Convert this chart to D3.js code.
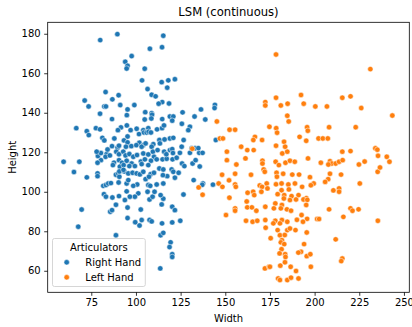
<!DOCTYPE html>
<html><head><meta charset="utf-8">
<script src="https://cdn.jsdelivr.net/npm/d3@7"></script>
<style>body{margin:0;background:#fff}svg{display:block}text{font-family:"DejaVu Sans",sans-serif;fill:#000}</style>
</head><body>
<svg id="c" width="412" height="327"></svg>
<script>
const title = "LSM (continuous)";
const seriesNames = ["Right Hand", "Left Hand"];
const seriesColors = ["#1f77b4", "#ff7f0e"];
const xTicks = [75, 100, 125, 150, 175, 200, 225, 250];
const yTicks = [60, 80, 100, 120, 140, 160, 180];
const rightHand = [[89.6,179.8],[80.0,176.8],[115.3,179],[114.6,173.2],[107.8,172.4],[97.6,168.7],[94,165.8],[95.3,163.8],[94.8,162.4],[104.9,162.3],[103.4,156.4],[114.4,155.5],[118.1,156.4],[121.8,157],[117.5,152.7],[106.5,152],[83,150.5],[108.8,149.1],[90.3,148.9],[111,148.3],[71.3,146.2],[86.8,146.8],[73.5,143.2],[82.3,143.2],[83.2,143.2],[91.2,143.9],[99.1,143.9],[114.7,145.4],[112.7,144.6],[118.5,144.7],[79.9,139.5],[95.3,141.7],[105.2,140.3],[108.8,139.8],[109,139],[94.9,138.8],[126.1,140.2],[136.4,141.7],[144.2,144],[144,142.4],[86.6,136.8],[104.9,136.6],[108.6,137.1],[114.7,136.8],[119,138.1],[120.9,138.1],[120.3,136],[132.8,138.1],[138.8,136.6],[125.7,134.4],[66.6,132.2],[77.6,132.2],[79.9,131.6],[91.6,132.6],[89.9,131.2],[94.9,133.6],[97,131.2],[100.4,131.9],[104.1,131.2],[106.9,132.2],[111.8,131.6],[114.6,132.2],[115.7,133.6],[130.2,132.9],[129.3,131.2],[72.5,130.7],[73.6,128.7],[81.2,127.3],[87.9,127],[95.3,128],[101.7,129.2],[104.5,130],[106,130],[107.1,130.4],[108.4,130],[119,127],[120.9,127.3],[126.7,126.2],[113.1,126.2],[116,126.5],[82.3,126],[93.3,126],[95.3,125],[101.9,124.8],[104.1,123.6],[113.4,124.5],[109.7,124.1],[131.2,122],[133.1,122],[125.6,122.8],[135.4,119.7],[137.3,119.7],[59.5,115.2],[68.3,115.2],[65.3,110],[72.5,107.3],[69.6,91],[67.7,82.3],[88.8,78],[113.8,78],[115.3,79.2],[119.4,74.4],[118.8,72],[120.3,68.4],[120.3,67],[113.6,61.2],[124.8,85.3],[120.3,84.5],[114.6,84],[107.6,85.7],[108.8,85],[99.6,84.6],[102,82.9],[103.2,85.7],[95.3,86.7],[102.7,91],[95.3,92],[85.6,89.9],[86.6,90.7],[88.8,93.4],[114.4,93.6],[120.3,92.4],[121.8,90.7],[115.3,96.5],[113.8,98.3],[126.6,98.6],[107.6,96.1],[109.3,97.5],[106.5,100],[110.4,100],[101.3,99.2],[99.4,97.5],[93.8,95.8],[96.6,97.5],[94.8,100.2],[90.5,97.8],[86.8,97.1],[82.1,98.8],[83.2,97.5],[81.7,103],[83.2,103.4],[84.5,104.2],[86,104.4],[90.3,104.7],[94.8,104.2],[100.7,103.7],[98.5,103],[106.9,103.4],[108,103],[111.6,103.7],[115.3,104.2],[78.5,109.3],[78.5,107.9],[88.8,108.6],[90.1,109.3],[90.7,107.6],[93.5,110.3],[95.7,109.3],[98.1,109.6],[100.4,109.3],[102.2,108.8],[104.1,110.1],[108.2,108.9],[110.1,109.6],[113.1,111.8],[115.3,111.3],[120,111.3],[120.9,110.1],[123.9,109.6],[125.8,114.3],[127.1,113],[131.7,114.3],[133.4,116],[135.7,112.8],[130.2,119.7],[134.9,122.1],[80.4,116],[78.5,114.7],[78.7,118.1],[80.4,119.6],[78,120.3],[83.6,119.1],[84.1,121.4],[86.6,123.1],[89.7,122.3],[90.5,123.3],[87.7,114.7],[89,120.3],[90.5,119],[92.9,120.3],[94.4,122.8],[97.4,123.1],[100.2,123.6],[103.2,122.8],[105.4,124.5],[108.8,122.8],[94.2,118.4],[96.3,119.1],[98.5,117.7],[100.6,118.6],[104.1,119.4],[106.9,118.9],[109.5,120.3],[110.1,117.7],[112.1,121.1],[115.8,120.3],[119,121.1],[120.3,121.6],[90.5,116],[92.2,114.7],[94.8,115.7],[97.6,114.3],[102.8,115.3],[105,116.4],[108.4,115.7],[111.6,116.4],[114.9,116.4],[117.2,116.7],[120.5,116.4],[122.8,117.2],[83,117.7],[85.4,118.4],[87.1,113.5],[91,112.7],[93.1,113.5],[96.3,113],[99.4,113],[103.2,114],[106.9,113.5],[90.7,110.3],[93,111.1],[95.7,105.9],[105.4,106.4],[107.3,107.6],[121.8,107.1],[117.5,107.9],[115.1,108.4],[132.3,105.9],[137.5,104.2],[137.1,103.5],[143.1,103.6],[144.7,126.2],[124.6,119.7],[117,119],[120.7,119.6]];
const leftHand = [[178.4,169.5],[231.2,162.1],[243.5,138.6],[192.4,149],[220.1,148.3],[215.5,147.6],[178.4,147.6],[172.4,145.4],[172.4,143.7],[184.9,144.6],[193.9,144.6],[181.1,143.7],[200.4,143.2],[206.9,143.2],[226.1,142.4],[184.7,138.5],[185.5,135.6],[145.3,135.6],[152.4,131.4],[155.5,131.4],[174.7,132.9],[178.5,132.2],[195.8,132.7],[196.2,130.9],[208.1,132.7],[223,132.7],[179,129.9],[191.6,127.8],[202.2,127],[204.6,127],[207.4,127],[147,127],[148.7,127],[166.6,127.8],[165.7,126.2],[170.6,126.2],[182.9,125.3],[183.5,122.8],[195.3,125.8],[158.9,122.8],[162.3,121.1],[165.9,121.1],[178.4,123.3],[234,122],[235.1,121.3],[150.9,120.3],[220.1,120.6],[215.5,120.3],[181.9,119.4],[184.7,120.3],[161.3,116.9],[150.9,116],[156.2,113.8],[170.8,115.7],[170.8,114.3],[178.2,115.2],[180,113.5],[183.7,114.7],[186.2,115.7],[188.9,115.2],[196.3,116.9],[203.5,114.7],[208.6,115.5],[209.6,114.3],[207.7,113.8],[211.8,114.3],[213.7,115.2],[215.7,116],[224.8,113.8],[228,115.3],[235.5,118.2],[240.4,117.7],[241.9,115.2],[235.3,110.1],[236.6,112.3],[171.5,111.3],[172.1,110.1],[178.7,109.6],[182.4,109.1],[187.5,108.7],[191.3,108.7],[197.4,107.4],[208.6,109.1],[214.8,108.7],[148.2,108.6],[164.4,108.6],[155.5,109.1],[178.9,107.6],[152.1,105.8],[146.3,104.2],[207.6,106.4],[205.9,105],[225.3,104.2],[199.5,104.2],[178.4,103.8],[181.5,104.2],[185.3,103.7],[189,104.2],[173.2,104.2],[169.3,103.2],[170.6,102.5],[155.5,103.7],[155.9,102.5],[193,102.5],[197.9,103.3],[148.4,102.5],[135.1,102.2],[137.3,98.5],[210.5,100.7],[213.7,101.7],[213.7,100],[170.2,100],[173.6,101.7],[181.5,100.8],[185.6,101.2],[162.5,99.5],[165.6,100],[166.2,98.3],[179.3,98.8],[183,98.3],[187.1,97.8],[191,98.3],[152.3,97],[162,95.1],[195.4,96.8],[182.8,96.6],[186.2,95.8],[189.6,96.1],[193.8,96.1],[195.9,95.9],[178,94.1],[181.7,93.3],[195.3,93.3],[172.4,92.4],[177.2,91.6],[155.5,91.6],[155.5,90.4],[162.3,92.1],[164.9,92.1],[167.4,90.4],[181.1,91.6],[184.5,91.1],[186.8,90.4],[208.1,91.1],[220.1,91.6],[221.2,90.4],[224.6,91.1],[150.4,88.2],[192.7,88.2],[216.1,87.3],[172.4,85.7],[178,85.3],[181.7,85.7],[184.7,84.8],[161.6,85.3],[165.3,84.8],[167.9,85.3],[190.1,85.8],[195.8,86.3],[201.4,86.2],[202.5,86.2],[235.4,85.3],[193.5,84.8],[176.9,84],[180.6,84],[184.7,80.6],[186.2,81.4],[172.6,81.8],[179.3,80.6],[189.3,80.6],[195.6,79.4],[211.8,75.9],[175.4,76.5],[180.6,78],[181.7,75.5],[181.1,74.4],[183,73.5],[194.1,73.5],[181.5,70.9],[180.4,68.8],[183.5,68.4],[183.7,67],[192.4,69.6],[190.9,69.2],[195.6,67.4],[197.6,68.4],[215.5,66.2],[214.9,64.9],[183.4,64.3],[180.8,62.6],[172.2,61.2],[174.5,62],[175,62],[186.6,62],[197.9,62],[179.6,56.1],[180.6,55.3],[184.7,55.3],[186.8,56.5],[191,56.1],[189.6,59.9],[183.3,78.1],[131.5,121.8]];

const svg = d3.select("#c");
const L = 47.7, T = 22.3, R = 409.3, B = 292.3;
const x = d3.scaleLinear().domain([50.6, 253]).range([L, R]);
const y = d3.scaleLinear().domain([49.1, 185.8]).range([B, T]);

const gx = svg.append("g").attr("transform", `translate(0,${B})`)
  .call(d3.axisBottom(x).tickValues(xTicks).tickSize(3.5).tickPadding(3.5));
const gy = svg.append("g").attr("transform", `translate(${L},0)`)
  .call(d3.axisLeft(y).tickValues(yTicks).tickSize(3.5).tickPadding(3.5));
[gx, gy].forEach(g => {
  g.select(".domain").remove();
  g.selectAll(".tick line").attr("stroke", "#000").attr("stroke-width", 0.8);
  g.selectAll(".tick text").attr("font-size", 10).attr("font-family", "DejaVu Sans").attr("fill", "#000");
});

const series = [rightHand, leftHand];
series.forEach((pts, i) => {
  svg.append("g").selectAll("circle").data(pts).join("circle")
    .attr("cx", d => x(d[0])).attr("cy", d => y(d[1])).attr("r", 2.7)
    .attr("fill", seriesColors[i]).attr("stroke", "#fff").attr("stroke-width", 0.5);
});

svg.append("rect").attr("x", L).attr("y", T).attr("width", R - L).attr("height", B - T)
  .attr("fill", "none").attr("stroke", "#000").attr("stroke-width", 0.8);

svg.append("text").attr("x", (L + R) / 2).attr("y", 16).attr("text-anchor", "middle")
  .attr("font-size", 11.6).text(title);
svg.append("text").attr("x", (L + R) / 2).attr("y", 321.5).attr("text-anchor", "middle")
  .attr("font-size", 10).text("Width");
svg.append("text").attr("transform", `translate(15.5,${(T + B) / 2}) rotate(-90)`)
  .attr("text-anchor", "middle").attr("font-size", 10).text("Height");

const lg = svg.append("g");
lg.append("rect").attr("x", 52.5).attr("y", 238.5).attr("width", 92.8).attr("height", 48)
  .attr("rx", 2).attr("fill", "#fff").attr("fill-opacity", 0.8).attr("stroke", "#ccc").attr("stroke-width", 0.8);
lg.append("text").attr("x", 98.8).attr("y", 250.8).attr("text-anchor", "middle").attr("font-size", 10).text("Articulators");
seriesNames.forEach((n, i) => {
  const cy = 262.3 + i * 15;
  lg.append("circle").attr("cx", 66.7).attr("cy", cy).attr("r", 2.7).attr("fill", seriesColors[i])
    .attr("stroke", "#fff").attr("stroke-width", 0.5);
  lg.append("text").attr("x", 85.3).attr("y", cy + 3.6).attr("font-size", 10).text(n);
});
</script>
</body></html>
